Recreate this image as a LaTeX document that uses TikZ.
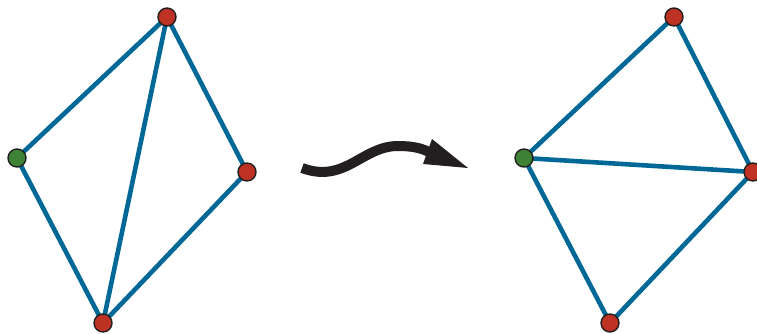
\documentclass[tikz,border=0pt]{standalone}
\definecolor{edgeblue}{RGB}{0,104,150}
\definecolor{vred}{RGB}{190,50,35}
\definecolor{vgreen}{RGB}{62,130,54}
\definecolor{rim}{RGB}{35,31,32}
\begin{document}
\begin{tikzpicture}[x=1pt,y=-1pt,
  vtx/.style={circle,draw=rim,line width=1.4pt,minimum size=18pt,inner sep=0pt},
  redv/.style={vtx,fill=vred},
  greenv/.style={vtx,fill=vgreen},
  edge/.style={draw=edgeblue,line width=4.6pt}]
\useasboundingbox (0,0) rectangle (757,334);
% edges are drawn first so the vertices sit on top
\coordinate (a1) at (167,17);
\coordinate (a2) at (17,158);
\coordinate (a3) at (247,172);
\coordinate (a4) at (103,323);
\coordinate (b1) at (674,17);
\coordinate (b2) at (524,158);
\coordinate (b3) at (753,172);
\coordinate (b4) at (610,323);
% left triangulation
\draw[edge] (a1) -- (a2);
\draw[edge] (a1) -- (a4);
\draw[edge] (a1) -- (a3);
\draw[edge] (a2) -- (a4);
\draw[edge] (a3) -- (a4);
% right triangulation (after the flip)
\draw[edge] (b1) -- (b2);
\draw[edge] (b1) -- (b3);
\draw[edge] (b2) -- (b3);
\draw[edge] (b2) -- (b4);
\draw[edge] (b3) -- (b4);
% vertices
\node[redv] (l1) at (a1) {};
\node[greenv] (l2) at (a2) {};
\node[redv] (l3) at (a3) {};
\node[redv] (l4) at (a4) {};
\node[redv] (r1) at (b1) {};
\node[greenv] (r2) at (b2) {};
\node[redv] (r3) at (b3) {};
\node[redv] (r4) at (b4) {};
% wavy transition arrow
\coordinate (w0) at (302,168);
\coordinate (w1) at (429,152);
\draw[rim,line width=10pt] (w0) .. controls (345,184) and (362,146) .. (398,146)
  .. controls (412,146) and (421,148) .. (w1);
\fill[rim] (432,139) -- (468,168) -- (423,164) -- cycle;
\end{tikzpicture}
\end{document}
